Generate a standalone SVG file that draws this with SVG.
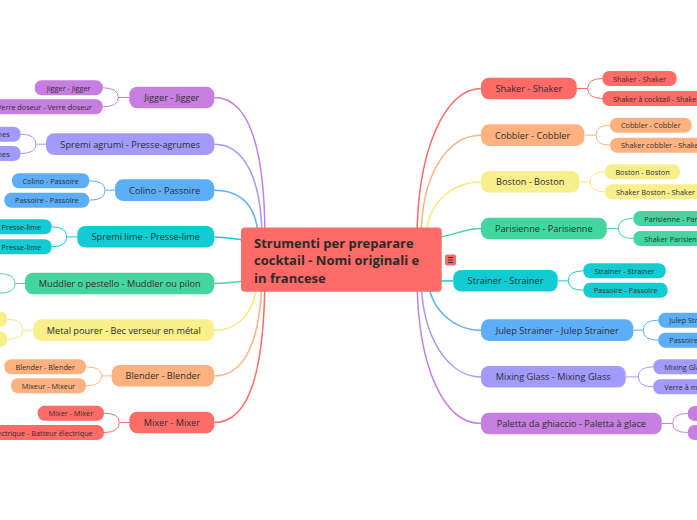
<svg xmlns="http://www.w3.org/2000/svg" width="697" height="520" viewBox="0 0 697 520">
<style>
.m{font-family:"Open Sans","Noto Sans","DejaVu Sans",sans-serif;font-size:9.2px;fill:#2e2e2e;dominant-baseline:central}
.s{font-family:"Open Sans","Noto Sans","DejaVu Sans",sans-serif;font-size:7.3px;fill:#2e2e2e;dominant-baseline:central}
.c{font-family:"Open Sans","Noto Sans","DejaVu Sans",sans-serif;font-size:13px;font-weight:bold;fill:#2a2a2a}
.red{fill:#FF6B66}.ora{fill:#FFB27F}.yel{fill:#F8EE8C}.grn{fill:#45D5A1}.cya{fill:#13CBD3}.blu{fill:#5BAEF7}.lav{fill:#A39BFC}.pur{fill:#C67FE0}
.l{fill:none;stroke-width:1.5}
.k{fill:none;stroke-width:1}
.Lred{stroke:#FF6B66}.Lora{stroke:#FFB27F}.Lyel{stroke:#F5EA7C}.Lgrn{stroke:#45D5A1}.Lcya{stroke:#13CBD3}.Lblu{stroke:#5BAEF7}.Llav{stroke:#A39BFC}.Lpur{stroke:#C67FE0}
</style>
<rect width="697" height="520" fill="#ffffff"/>
<g id="connectors">
<path class="l Lpur" d="M214.3,97.5 C250,97.5 265,150 265,240"/>
<path class="l Llav" d="M214.3,144.2 C245,144.2 262,180 262,240"/>
<path class="l Lblu" d="M214.3,190.2 C240,190.2 258,205 258,240"/>
<path class="l Lcya" d="M214.3,236.9 C230,236.9 235,240 250,240"/>
<path class="l Lgrn" d="M214.3,283.5 C230,283.5 235,281 250,281"/>
<path class="l Lyel" d="M214.3,330.2 C240,330.2 258,310 258,270"/>
<path class="l Lora" d="M214.3,375.9 C245,375.9 262,340 262,270"/>
<path class="l Lred" d="M214.3,422.5 C250,422.5 265,370 265,270"/>
<path class="l Lred" d="M481,88.5 C445,88.5 417,150 417,240"/>
<path class="l Lora" d="M481,135.2 C450,135.2 421,170 421,240"/>
<path class="l Lyel" d="M481,181.9 C455,181.9 426,200 426,240"/>
<path class="l Lgrn" d="M481,228.5 C465,228.5 455,235 435,238"/>
<path class="l Lcya" d="M453.3,280.9 H430"/>
<path class="l Lblu" d="M481,330.2 C455,330.2 428,310 428,275"/>
<path class="l Llav" d="M481,376.9 C450,376.9 421,340 421,275"/>
<path class="l Lpur" d="M481,423.5 C445,423.5 417,370 417,275"/>
<path class="k Lpur" d="M129.3,97.5 H118.3 M102.7,87.8 Q118.3,87.8 118.3,97.5 Q118.3,106.8 102.7,106.8"/>
<path class="k Llav" d="M46,144.2 H36 M20.7,134.2 Q36,134.2 36,144.2 Q36,153.5 20.7,153.5"/>
<path class="k Lblu" d="M115,190.2 H105 M89.3,180.8 Q105,180.8 105,190.2 Q105,200.2 89.3,200.2"/>
<path class="k Lcya" d="M77.3,236.9 H66.7 M51.7,226.8 Q66.7,226.8 66.7,236.9 Q66.7,246.8 51.7,246.8"/>
<path class="k Lgrn" d="M25,283.5 H15 M-2,273.5 Q15,273.5 15,283.5 Q15,293.3 -2,293.3"/>
<path class="k Lyel" d="M33.3,330.2 H22.7 M7.3,319.2 Q22.7,319.2 22.7,330.2 Q22.7,339.2 7.3,339.2"/>
<path class="k Lora" d="M111.7,375.9 H101.7 M86,366.8 Q101.7,366.8 101.7,375.9 Q101.7,385.8 86,385.8"/>
<path class="k Lred" d="M129.3,422.5 H119.3 M104,413.2 Q119.3,413.2 119.3,422.5 Q119.3,432.5 104,432.5"/>
<path class="k Lred" d="M576.7,88.5 H587.7 M602.3,78.5 Q587.7,78.5 587.7,88.5 Q587.7,98.5 602.3,98.5"/>
<path class="k Lora" d="M584.3,135.2 H596 M610,125.2 Q596,125.2 596,135.2 Q596,145.2 610,145.2"/>
<path class="k Lyel" d="M579.3,181.9 H590 M605,171.8 Q590,171.8 590,181.9 Q590,191.8 605,191.8"/>
<path class="k Lgrn" d="M606.7,228.5 H618.3 M633.3,218.5 Q618.3,218.5 618.3,228.5 Q618.3,238.5 633.3,238.5"/>
<path class="k Lcya" d="M557.7,280.9 H568.3 M583.3,270.8 Q568.3,270.8 568.3,280.9 Q568.3,290.2 583.3,290.2"/>
<path class="k Lblu" d="M633.3,330.2 H643.3 M658.3,320.2 Q643.3,320.2 643.3,330.2 Q643.3,340.2 658.3,340.2"/>
<path class="k Llav" d="M625.7,376.9 H638.3 M653.3,366.8 Q638.3,366.8 638.3,376.9 Q638.3,386.8 653.3,386.8"/>
<path class="k Lpur" d="M661.7,423.5 H672.7 M687.7,413.5 Q672.7,413.5 672.7,423.5 Q672.7,432.5 687.7,432.5"/>
</g>
<g id="center">
<rect class="red" x="241" y="227.5" width="200.7" height="64.2" rx="4"/>
<text class="c" x="254" y="247.7">Strumenti per preparare</text>
<text class="c" x="254" y="265.2">cocktail - Nomi originali e</text>
<text class="c" x="254" y="282.7">in francese</text>
</g>
<g id="note-icon">
<rect class="red" x="445" y="254.5" width="11" height="11" rx="2"/>
<path d="M447.8,257.5 H453.2 M447.8,260 H453.2 M447.8,262.5 H453.2" stroke="#333" stroke-width="1" fill="none"/>
</g>
<g id="jigger">
<rect class="pur" x="129.3" y="86.7" width="85" height="21.6" rx="8"/>
<text class="m" x="171.8" y="97.5" text-anchor="middle">Jigger - Jigger</text>
<rect class="pur" x="34.7" y="80.3" width="68" height="15" rx="7"/>
<text class="s" x="68.7" y="87.8" text-anchor="middle">Jigger - Jigger</text>
<rect class="pur" x="-60" y="99.3" width="162.7" height="15" rx="7"/>
<text class="s" x="91.7" y="106.8" text-anchor="end">Verre doseur - Verre doseur</text>
</g>
<g id="spremi-agrumi">
<rect class="lav" x="46" y="133.3" width="168.3" height="21.6" rx="8"/>
<text class="m" x="130.2" y="144.2" text-anchor="middle">Spremi agrumi - Presse-agrumes</text>
<rect class="lav" x="-120" y="126.7" width="140.7" height="15" rx="7"/>
<text class="s" x="9.7" y="134.2" text-anchor="end">Spremi agrumi - Presse-agrumes</text>
<rect class="lav" x="-120" y="146" width="140.7" height="15" rx="7"/>
<text class="s" x="9.7" y="153.5" text-anchor="end">Presse-agrumes - Presse-agrumes</text>
</g>
<g id="colino">
<rect class="blu" x="115" y="179.3" width="99.3" height="21.6" rx="8"/>
<text class="m" x="164.6" y="190.2" text-anchor="middle">Colino - Passoire</text>
<rect class="blu" x="12" y="173.3" width="77.3" height="15" rx="7"/>
<text class="s" x="50.7" y="180.8" text-anchor="middle">Colino - Passoire</text>
<rect class="blu" x="4.3" y="192.7" width="85" height="15" rx="7"/>
<text class="s" x="46.8" y="200.2" text-anchor="middle">Passoire - Passoire</text>
</g>
<g id="spremi-lime">
<rect class="cya" x="77.3" y="226" width="137" height="21.6" rx="8"/>
<text class="m" x="145.8" y="236.9" text-anchor="middle">Spremi lime - Presse-lime</text>
<rect class="cya" x="-120" y="219.3" width="171.7" height="15" rx="7"/>
<text class="s" x="41" y="226.8" text-anchor="end">Spremi lime - Presse-lime</text>
<rect class="cya" x="-120" y="239.3" width="171.7" height="15" rx="7"/>
<text class="s" x="41" y="246.8" text-anchor="end">Presse-lime - Presse-lime</text>
</g>
<g id="muddler">
<rect class="grn" x="25" y="272.7" width="189.3" height="21.6" rx="8"/>
<text class="m" x="119.7" y="283.5" text-anchor="middle">Muddler o pestello - Muddler ou pilon</text>
</g>
<g id="metal-pourer">
<rect class="yel" x="33.3" y="319.3" width="181" height="21.6" rx="8"/>
<text class="m" x="123.8" y="330.2" text-anchor="middle">Metal pourer - Bec verseur en métal</text>
<rect class="yel" x="-120" y="311.7" width="127.3" height="15" rx="7"/>
<rect class="yel" x="-120" y="331.7" width="127.3" height="15" rx="7"/>
</g>
<g id="blender">
<rect class="ora" x="111.7" y="365" width="102.6" height="21.6" rx="8"/>
<text class="m" x="163" y="375.9" text-anchor="middle">Blender - Blender</text>
<rect class="ora" x="4.3" y="359.3" width="81.7" height="15" rx="7"/>
<text class="s" x="45.2" y="366.8" text-anchor="middle">Blender - Blender</text>
<rect class="ora" x="11" y="378.3" width="75" height="15" rx="7"/>
<text class="s" x="48.5" y="385.8" text-anchor="middle">Mixeur - Mixeur</text>
</g>
<g id="mixer">
<rect class="red" x="129.3" y="411.7" width="85" height="21.6" rx="8"/>
<text class="m" x="171.8" y="422.5" text-anchor="middle">Mixer - Mixer</text>
<rect class="red" x="37.7" y="405.7" width="66.3" height="15" rx="7"/>
<text class="s" x="70.8" y="413.2" text-anchor="middle">Mixer - Mixer</text>
<rect class="red" x="-120" y="425" width="224" height="15" rx="7"/>
<text class="s" x="92.7" y="432.5" text-anchor="end">Batteur électrique - Batteur électrique</text>
</g>
<g id="shaker">
<rect class="red" x="481" y="77.7" width="95.7" height="21.6" rx="8"/>
<text class="m" x="528.8" y="88.5" text-anchor="middle">Shaker - Shaker</text>
<rect class="red" x="602.3" y="71" width="74.4" height="15" rx="7"/>
<text class="s" x="639.5" y="78.5" text-anchor="middle">Shaker - Shaker</text>
<rect class="red" x="602.3" y="91" width="160" height="15" rx="7"/>
<text class="s" x="613" y="98.5">Shaker à cocktail - Shaker à cocktail</text>
</g>
<g id="cobbler">
<rect class="ora" x="481" y="124.3" width="103.3" height="21.6" rx="8"/>
<text class="m" x="532.6" y="135.2" text-anchor="middle">Cobbler - Cobbler</text>
<rect class="ora" x="610" y="117.7" width="81.7" height="15" rx="7"/>
<text class="s" x="650.8" y="125.2" text-anchor="middle">Cobbler - Cobbler</text>
<rect class="ora" x="610" y="137.7" width="160" height="15" rx="7"/>
<text class="s" x="621" y="145.2">Shaker cobbler - Shaker cobbler</text>
</g>
<g id="boston">
<rect class="yel" x="481" y="171" width="98.3" height="21.6" rx="8"/>
<text class="m" x="530.2" y="181.9" text-anchor="middle">Boston - Boston</text>
<rect class="yel" x="605" y="164.3" width="75" height="15" rx="7"/>
<text class="s" x="642.5" y="171.8" text-anchor="middle">Boston - Boston</text>
<rect class="yel" x="605" y="184.3" width="160" height="15" rx="7"/>
<text class="s" x="616" y="191.8">Shaker Boston - Shaker Boston</text>
</g>
<g id="parisienne">
<rect class="grn" x="481" y="217.7" width="125.7" height="21.6" rx="8"/>
<text class="m" x="543.8" y="228.5" text-anchor="middle">Parisienne - Parisienne</text>
<rect class="grn" x="633.3" y="211" width="160" height="15" rx="7"/>
<text class="s" x="644.3" y="218.5">Parisienne - Parisienne</text>
<rect class="grn" x="633.3" y="231" width="160" height="15" rx="7"/>
<text class="s" x="644.3" y="238.5">Shaker Parisienne - Shaker parisien</text>
</g>
<g id="strainer">
<rect class="cya" x="453.3" y="270" width="104.4" height="21.6" rx="8"/>
<text class="m" x="505.5" y="280.9" text-anchor="middle">Strainer - Strainer</text>
<rect class="cya" x="583.3" y="263.3" width="82.4" height="15" rx="7"/>
<text class="s" x="624.5" y="270.8" text-anchor="middle">Strainer - Strainer</text>
<rect class="cya" x="583.3" y="282.7" width="84.4" height="15" rx="7"/>
<text class="s" x="625.5" y="290.2" text-anchor="middle">Passoire - Passoire</text>
</g>
<g id="julep-strainer">
<rect class="blu" x="481" y="319.3" width="152.3" height="21.6" rx="8"/>
<text class="m" x="557.2" y="330.2" text-anchor="middle">Julep Strainer - Julep Strainer</text>
<rect class="blu" x="658.3" y="312.7" width="160" height="15" rx="7"/>
<text class="s" x="669.3" y="320.2">Julep Strainer - Julep Strainer</text>
<rect class="blu" x="658.3" y="332.7" width="160" height="15" rx="7"/>
<text class="s" x="669.3" y="340.2">Passoire julep - Passoire julep</text>
</g>
<g id="mixing-glass">
<rect class="lav" x="481" y="366" width="144.7" height="21.6" rx="8"/>
<text class="m" x="553.3" y="376.9" text-anchor="middle">Mixing Glass - Mixing Glass</text>
<rect class="lav" x="653.3" y="359.3" width="160" height="15" rx="7"/>
<text class="s" x="664.3" y="366.8">Mixing Glass - Mixing Glass</text>
<rect class="lav" x="653.3" y="379.3" width="160" height="15" rx="7"/>
<text class="s" x="664.3" y="386.8">Verre à mélange - Verre à mélange</text>
</g>
<g id="paletta">
<rect class="pur" x="481" y="412.7" width="180.7" height="21.6" rx="8"/>
<text class="m" x="571.3" y="423.5" text-anchor="middle">Paletta da ghiaccio - Paletta à glace</text>
<rect class="pur" x="687.7" y="406" width="160" height="15" rx="7"/>
<rect class="pur" x="687.7" y="425" width="160" height="15" rx="7"/>
</g>
</svg>
